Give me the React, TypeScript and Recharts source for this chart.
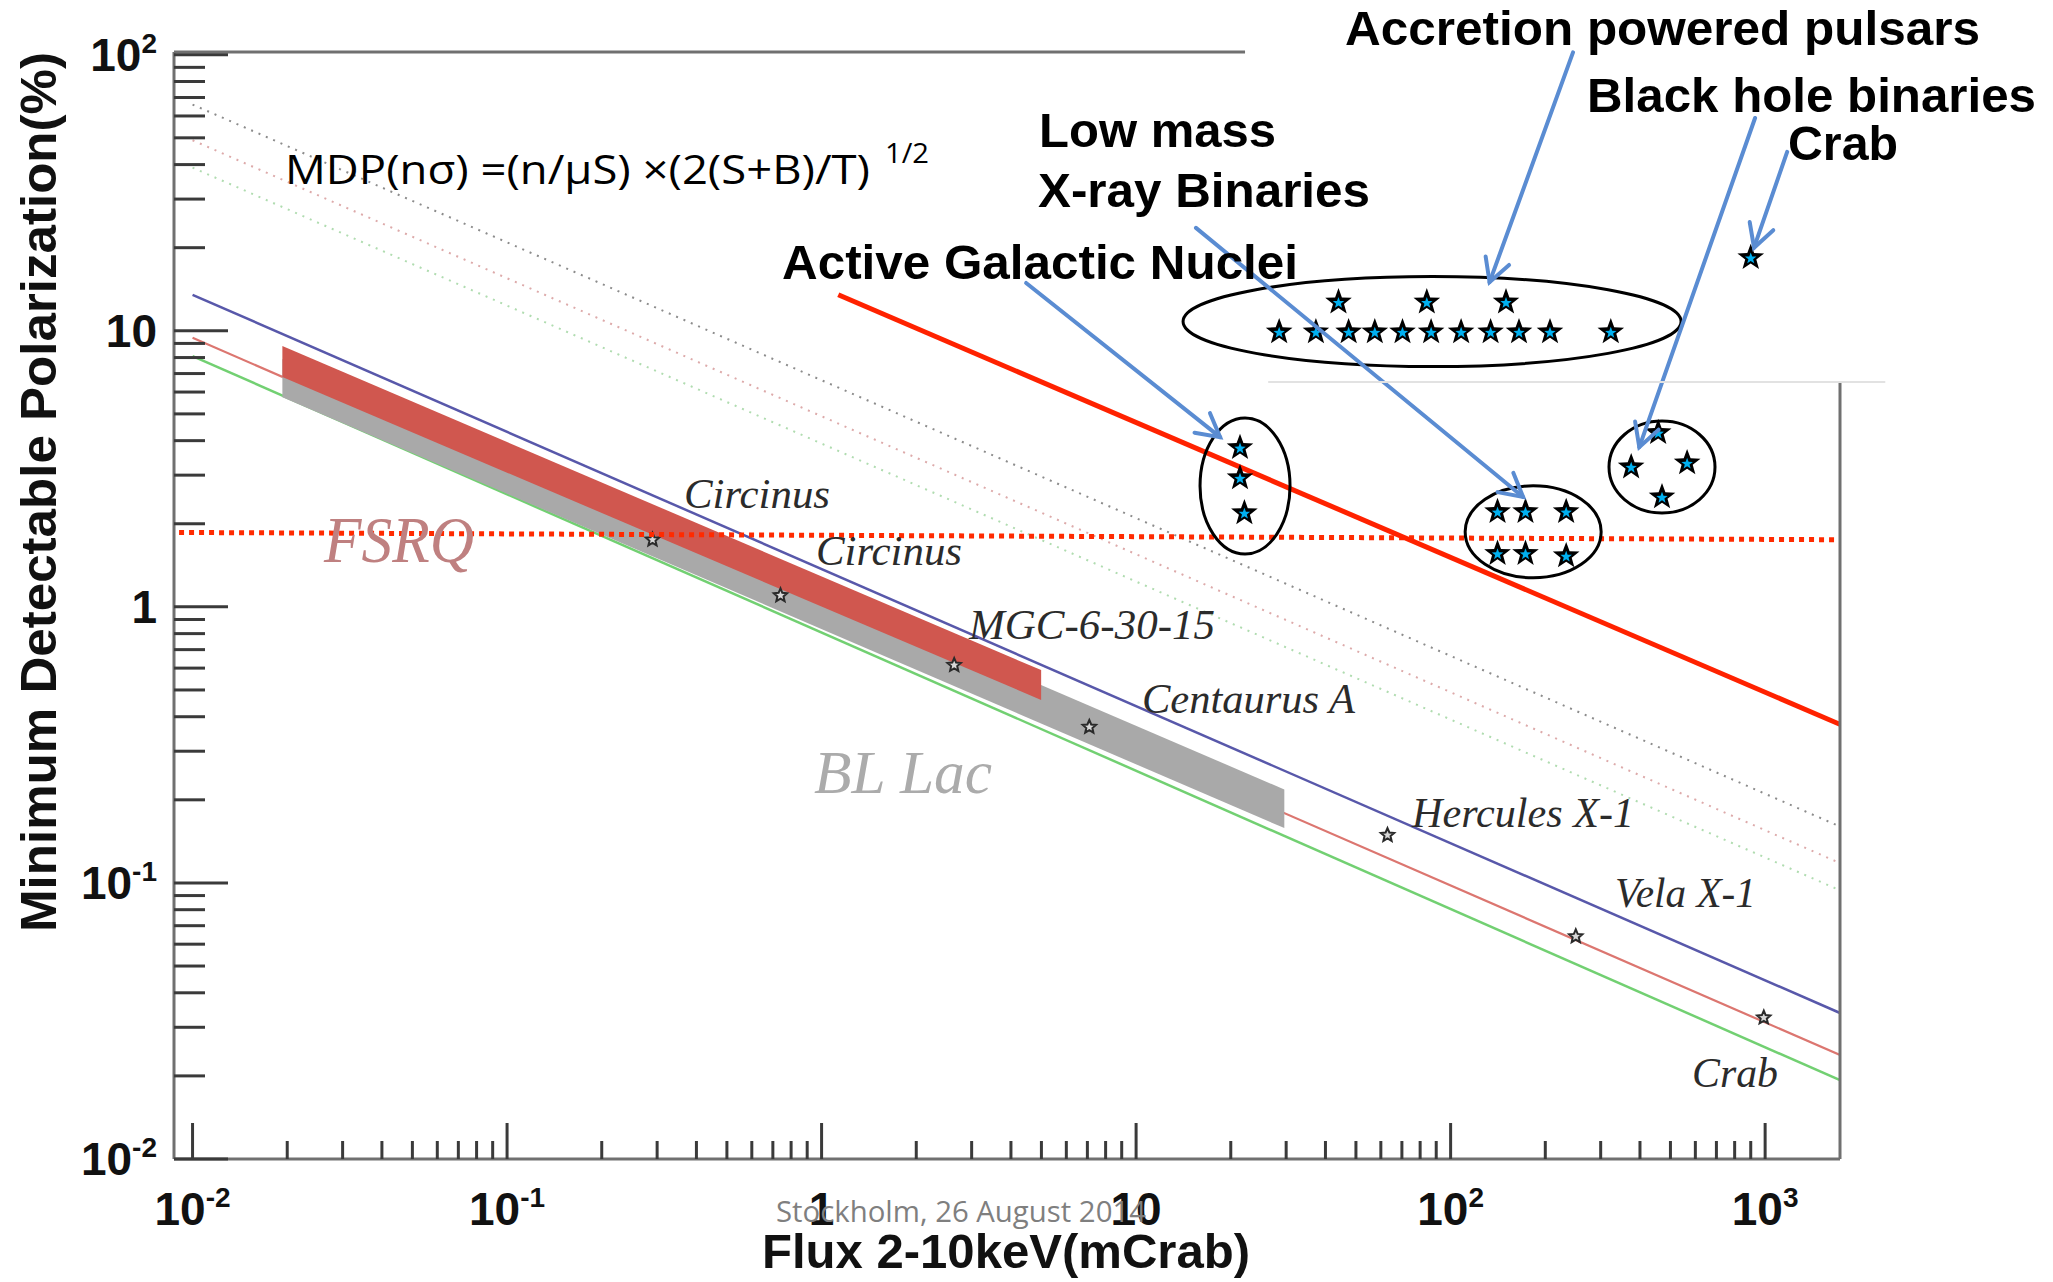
import { ComposedChart, Line, Area, Scatter, XAxis, YAxis, ReferenceLine } from 'recharts';

const W = 2053;
const H = 1282;

// log axes, ranges
const xDomain: [number, number] = [0.00873, 1730];
const yDomain: [number, number] = [0.01, 102.3];

const decades = [0.01, 0.1, 1, 10, 100, 1000];
const decadeBase = ['10', '10', '1', '10', '10', '10'];
const decadeExp = ['-2', '-1', '', '', '2', '3'];
const minorSteps = [2, 3, 4, 5, 6, 7, 8, 9];

const xTicks = decades.flatMap((d) => (d < 1000 ? [d, ...minorSteps.map((m) => +(d * m).toPrecision(3))] : [d]));
const yTicks = decades.filter((d) => d <= 100).flatMap((d) => (d < 100 ? [d, ...minorSteps.map((m) => +(d * m).toPrecision(3))] : [d]));

// MDP curves (flux mCrab -> MDP %)
const dottedBlack = [{ x: 0.01, y: 66 }, { x: 1730, y: 0.16 }];
const dottedRed = [{ x: 0.01, y: 49 }, { x: 1730, y: 0.118 }];
const dottedGreen = [{ x: 0.01, y: 39 }, { x: 1730, y: 0.094 }];
const blueCurve = [{ x: 0.01, y: 13.5 }, { x: 1730, y: 0.0338 }];
const redCurve = [{ x: 0.01, y: 9.44 }, { x: 1730, y: 0.0238 }];
const greenCurve = [{ x: 0.01, y: 8.1 }, { x: 1730, y: 0.0193 }];

// source classes as bands
const fsrqBand = [{ x: 0.0193, range: [6.8, 8.8] }, { x: 4.99, range: [0.46, 0.59] }];
const blLacBand = [{ x: 0.0193, range: [5.75, 7.9] }, { x: 29.6, range: [0.158, 0.218] }];

// named sources on the curves
const sourceMarkers = [
  { name: 'Circinus', x: 0.29, y: 1.75 },
  { name: 'Circinus', x: 0.74, y: 1.1 },
  { name: 'MGC-6-30-15', x: 2.64, y: 0.615 },
  { name: 'Centaurus A', x: 7.1, y: 0.367 },
  { name: 'Hercules X-1', x: 63, y: 0.149 },
  { name: 'Vela X-1', x: 250, y: 0.064 },
  { name: 'Crab', x: 990, y: 0.0325 },
];

// overlaid requirement lines
const mdpLevel = [{ x: 0.00906, y: 1.86 }, { x: 1849, y: 1.75 }];
const newMission = [{ x: 1.13, y: 13.5 }, { x: 1811, y: 0.367 }];

// target populations (stars)
const pulsarStars = [
  { x: 44, y: 12.7 }, { x: 84, y: 12.7 }, { x: 150, y: 12.7 },
  { x: 28.5, y: 9.9 }, { x: 37.3, y: 9.9 }, { x: 47.4, y: 9.9 }, { x: 57.4, y: 9.9 },
  { x: 70.3, y: 9.9 }, { x: 86.7, y: 9.9 }, { x: 108, y: 9.9 }, { x: 134, y: 9.9 },
  { x: 165, y: 9.9 }, { x: 207, y: 9.9 }, { x: 323, y: 9.9 },
];
const agnStars = [{ x: 21.4, y: 3.77 }, { x: 21.4, y: 2.93 }, { x: 22.1, y: 2.19 }];
const lmxbStars = [
  { x: 141, y: 2.21 }, { x: 173, y: 2.21 }, { x: 233, y: 2.21 },
  { x: 141, y: 1.56 }, { x: 173, y: 1.56 }, { x: 233, y: 1.53 },
];
const bhbStars = [{ x: 457, y: 4.27 }, { x: 375, y: 3.21 }, { x: 565, y: 3.32 }, { x: 470, y: 2.5 }];
const crabStar = [{ x: 900, y: 18.4 }];

// group outlines (centres)
const pulsarGroup = [{ x: 87.3, y: 10.8 }];
const agnGroup = [{ x: 22.2, y: 2.74 }];
const lmxbGroup = [{ x: 183, y: 1.87 }];
const bhbGroup = [{ x: 470, y: 3.21 }];

// label pointers: from text to group
const pointers = [
  { from: { x: 245, y: 102 }, to: { x: 133, y: 15.0 } },
  { from: { x: 929, y: 59 }, to: { x: 398, y: 3.79 } },
  { from: { x: 1175, y: 44.5 }, to: { x: 922, y: 20 } },
  { from: { x: 15.5, y: 23.6 }, to: { x: 170, y: 2.5 } },
  { from: { x: 4.47, y: 14.9 }, to: { x: 18.5, y: 4.12 } },
];

const SANS = "'Liberation Sans', Arial, sans-serif";
const SERIF = "'Liberation Serif', 'Times New Roman', serif";
const CALIBRI = "'Open Sans', 'Noto Sans', sans-serif";
const TICK = '#3a3a3a';
const FRAME = '#707070';

const starPath = (cx: number, cy: number, R: number, r: number) => {
  let d = '';
  for (let i = 0; i < 10; i++) {
    const a = -Math.PI / 2 + (i * Math.PI) / 5;
    const rad = i % 2 === 0 ? R : r;
    d += (i ? 'L' : 'M') + (cx + rad * Math.cos(a)).toFixed(1) + ',' + (cy + rad * Math.sin(a)).toFixed(1);
  }
  return d + 'Z';
};

const BigStar = (p: any) => (
  <g>
    <path d={starPath(p.cx, p.cy, 14, 5.8)} fill="#000" />
    <path d={starPath(p.cx, p.cy + 0.8, 6, 2.5)} fill="#00b0f0" />
  </g>
);

const SmallStar = (p: any) => (
  <path d={starPath(p.cx, p.cy, 7, 3.2)} fill="#d8d8d8" stroke="#2a2a2a" strokeWidth={2} />
);

const ellipseShape = (rx: number, ry: number) => (p: any) => (
  <ellipse cx={p.cx} cy={p.cy} rx={rx} ry={ry} fill="none" stroke="#000" strokeWidth={3} />
);

const ArrowShape = (p: any) => {
  const { x1, y1, x2, y2 } = p;
  const ang = Math.atan2(y2 - y1, x2 - x1);
  const len = 26;
  const spread = 0.5;
  const ax = x2 - len * Math.cos(ang - spread);
  const ay = y2 - len * Math.sin(ang - spread);
  const bx = x2 - len * Math.cos(ang + spread);
  const by = y2 - len * Math.sin(ang + spread);
  return (
    <g stroke="#5a8cd2" strokeWidth={4} fill="none" strokeLinecap="round">
      <line x1={x1} y1={y1} x2={x2} y2={y2} />
      <polyline points={`${ax},${ay} ${x2},${y2} ${bx},${by}`} />
    </g>
  );
};

const XTick = (props: any) => {
  const { x, y, payload } = props;
  const i = decades.indexOf(payload.value);
  const major = i >= 0;
  return (
    <g>
      <line x1={x} y1={y} x2={x} y2={y - (major ? 36 : 18)} stroke={TICK} strokeWidth={3} />
      {major && (
        <text x={x} y={y + 66} textAnchor="middle" fontFamily={SANS} fontWeight="bold" fontSize={46} fill="#111">
          <tspan>{decadeBase[i]}</tspan>
          {decadeExp[i] && <tspan fontSize={28} dy={-18}>{decadeExp[i]}</tspan>}
        </text>
      )}
    </g>
  );
};

const YTick = (props: any) => {
  const { x, y, payload } = props;
  const i = decades.indexOf(payload.value);
  const major = i >= 0;
  return (
    <g>
      <line x1={x} y1={y} x2={x + (major ? 54 : 31)} y2={y} stroke={TICK} strokeWidth={3} />
      {major && (
        <text x={x - 17} y={y + 16} textAnchor="end" fontFamily={SANS} fontWeight="bold" fontSize={46} fill="#111">
          <tspan>{decadeBase[i]}</tspan>
          {decadeExp[i] && <tspan fontSize={28} dy={-18}>{decadeExp[i]}</tspan>}
        </text>
      )}
    </g>
  );
};

const boldText = (txt: string, x: number, y: number, w: number, size = 49) => (
  <text x={x} y={y} fontFamily={SANS} fontWeight="bold" fontSize={size} textLength={w} lengthAdjust="spacingAndGlyphs" fill="#000">
    {txt}
  </text>
);

const italicText = (txt: string, x: number, y: number, w: number, size = 42, fill = '#2b2b2b') => (
  <text x={x} y={y} fontFamily={SERIF} fontStyle="italic" fontSize={size} textLength={w} lengthAdjust="spacingAndGlyphs" fill={fill}>
    {txt}
  </text>
);

const App = () => {
  return (
    <div style={{ position: 'absolute', left: 0, top: 0, width: W, height: H, background: '#fff' }}>
      <ComposedChart width={W} height={H} margin={{ top: 52, right: 213, bottom: 0, left: 0 }}>
        <XAxis
          dataKey="x"
          type="number"
          scale="log"
          domain={xDomain}
          allowDataOverflow
          ticks={xTicks}
          interval={0}
          tick={XTick}
          tickLine={false}
          tickSize={0}
          tickMargin={0}
          height={123}
          axisLine={{ stroke: FRAME, strokeWidth: 3 }}
        />
        <YAxis
          type="number"
          scale="log"
          domain={yDomain}
          allowDataOverflow
          ticks={yTicks}
          interval={0}
          tick={YTick}
          tickLine={false}
          tickSize={0}
          tickMargin={0}
          width={174}
          axisLine={{ stroke: FRAME, strokeWidth: 3 }}
        />

        <Line data={dottedBlack} dataKey="y" stroke="#8c8c8c" strokeWidth={2} strokeDasharray="2 6" dot={false} activeDot={false} isAnimationActive={false} zIndex={300} />
        <Line data={dottedRed} dataKey="y" stroke="#ddaaaa" strokeWidth={2} strokeDasharray="2 6" dot={false} activeDot={false} isAnimationActive={false} zIndex={300} />
        <Line data={dottedGreen} dataKey="y" stroke="#b0dcb0" strokeWidth={2} strokeDasharray="2 6" dot={false} activeDot={false} isAnimationActive={false} zIndex={300} />

        <Line data={greenCurve} dataKey="y" stroke="#72d072" strokeWidth={2.5} dot={false} activeDot={false} isAnimationActive={false} zIndex={310} />
        <Line data={redCurve} dataKey="y" stroke="#dc7670" strokeWidth={2.2} dot={false} activeDot={false} isAnimationActive={false} zIndex={310} />
        <Line data={blueCurve} dataKey="y" stroke="#5858aa" strokeWidth={2.5} dot={false} activeDot={false} isAnimationActive={false} zIndex={310} />

        <Area data={blLacBand} dataKey="range" type="linear" stroke="none" fill="#a9a9a9" fillOpacity={1} dot={false} activeDot={false} isAnimationActive={false} zIndex={320} />
        <Area data={fsrqBand} dataKey="range" type="linear" stroke="none" fill="#d0574f" fillOpacity={1} dot={false} activeDot={false} isAnimationActive={false} zIndex={321} />

        <Scatter data={sourceMarkers} dataKey="y" shape={SmallStar} isAnimationActive={false} zIndex={330} />

        <Line data={mdpLevel} dataKey="y" stroke="#ff2a00" strokeWidth={5} strokeDasharray="5 5" dot={false} activeDot={false} isAnimationActive={false} zIndex={340} />
        <Line data={newMission} dataKey="y" stroke="#ff2200" strokeWidth={5} dot={false} activeDot={false} isAnimationActive={false} zIndex={340} />

        <Scatter data={pulsarGroup} dataKey="y" shape={ellipseShape(249, 45)} isAnimationActive={false} zIndex={350} />
        <Scatter data={agnGroup} dataKey="y" shape={ellipseShape(45, 68)} isAnimationActive={false} zIndex={350} />
        <Scatter data={lmxbGroup} dataKey="y" shape={ellipseShape(68, 46)} isAnimationActive={false} zIndex={350} />
        <Scatter data={bhbGroup} dataKey="y" shape={ellipseShape(53, 46)} isAnimationActive={false} zIndex={350} />

        <Scatter data={pulsarStars} dataKey="y" shape={BigStar} isAnimationActive={false} zIndex={360} />
        <Scatter data={agnStars} dataKey="y" shape={BigStar} isAnimationActive={false} zIndex={360} />
        <Scatter data={lmxbStars} dataKey="y" shape={BigStar} isAnimationActive={false} zIndex={360} />
        <Scatter data={bhbStars} dataKey="y" shape={BigStar} isAnimationActive={false} zIndex={360} />
        <Scatter data={crabStar} dataKey="y" shape={BigStar} isAnimationActive={false} zIndex={360} />

        {pointers.map((p, i) => (
          <ReferenceLine key={i} segment={[p.from, p.to]} ifOverflow="visible" shape={ArrowShape} zIndex={370} />
        ))}

        {/* frame: top and right edges are partly hidden by the pasted panel */}
        <ReferenceLine segment={[{ x: xDomain[0], y: yDomain[1] }, { x: 22.2, y: yDomain[1] }]} ifOverflow="visible" stroke={FRAME} strokeWidth={3} zIndex={380} />
        <ReferenceLine segment={[{ x: xDomain[1], y: 6.53 }, { x: xDomain[1], y: yDomain[0] }]} ifOverflow="visible" stroke={FRAME} strokeWidth={3} zIndex={380} />
        <ReferenceLine segment={[{ x: 26.3, y: 6.53 }, { x: 2410, y: 6.53 }]} ifOverflow="visible" stroke="#e2e2e2" strokeWidth={2} zIndex={380} />
      </ComposedChart>

      <svg width={W} height={H} style={{ position: 'absolute', left: 0, top: 0, pointerEvents: 'none' }}>
        {/* axis titles */}
        <text transform="translate(56,492) rotate(-90)" textAnchor="middle" fontFamily={SANS} fontWeight="bold" fontSize={50} textLength={880} lengthAdjust="spacingAndGlyphs" fill="#111">
          Minimum Detectable Polarization(%)
        </text>
        <text x={1006} y={1268} textAnchor="middle" fontFamily={SANS} fontWeight="bold" fontSize={48} textLength={488} lengthAdjust="spacingAndGlyphs" fill="#111">
          Flux 2-10keV(mCrab)
        </text>
        <text x={776} y={1222} fontFamily={CALIBRI} fontSize={30} textLength={370} lengthAdjust="spacingAndGlyphs" fill="#7f7f7f">
          Stockholm, 26 August 2014
        </text>

        {/* formula */}
        <text x={285} y={184} fontFamily={CALIBRI} fontSize={41} textLength={585} lengthAdjust="spacingAndGlyphs" fill="#000">
          MDP(nσ) =(n/μS) ×(2(S+B)/T)
        </text>
        <text x={885} y={163} fontFamily={CALIBRI} fontSize={27} textLength={44} lengthAdjust="spacingAndGlyphs" fill="#000">
          1/2
        </text>

        {/* source labels on the curves */}
        {italicText('FSRQ', 324, 562, 150, 66, '#bf8080')}
        {italicText('BL Lac', 814, 793, 178, 62, '#ababab')}
        {italicText('Circinus', 684, 508, 146)}
        {italicText('Circinus', 816, 565, 146)}
        {italicText('MGC-6-30-15', 969, 639, 246)}
        {italicText('Centaurus A', 1142, 713, 213)}
        {italicText('Hercules X-1', 1412, 827, 222)}
        {italicText('Vela X-1', 1615, 907, 141)}
        {italicText('Crab', 1692, 1087, 86)}

        {/* population labels */}
        {boldText('Accretion powered pulsars', 1345, 45, 635)}
        {boldText('Black hole binaries', 1587, 112, 449)}
        {boldText('Crab', 1788, 160, 110)}
        {boldText('Low mass', 1039, 147, 237)}
        {boldText('X-ray Binaries', 1038, 207, 332)}
        {boldText('Active Galactic Nuclei', 782, 279, 516)}
      </svg>
    </div>
  );
};

export default App;
